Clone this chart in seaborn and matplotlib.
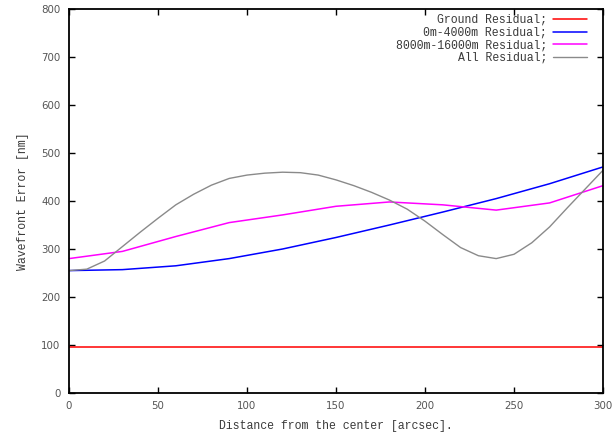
import matplotlib
matplotlib.use("Agg")
import matplotlib.pyplot as plt
import seaborn as sns
import numpy as np

# ---- data ----
x_coarse = [0, 30, 60, 90, 120, 150, 180, 210, 240, 270, 300]
ground = [96, 96, 96, 96, 96, 96, 96, 96, 96, 96, 96]
low_layer = [255, 257, 265, 280, 300, 324, 350, 377, 405, 436, 471]
high_layer = [280, 295, 326, 355, 371, 389, 398, 392, 381, 396, 432]

x_fine = [0, 10, 20, 30, 40, 50, 60, 70, 80, 90, 100, 110, 120, 130, 140, 150,
          160, 170, 180, 190, 200, 210, 220, 230, 240, 250, 260, 270, 280, 290, 300]
all_resid = [255, 258, 275, 305, 335, 364, 392, 414, 433, 447, 454, 458, 460, 459, 454, 444,
             432, 418, 402, 383, 358, 330, 303, 286, 280, 289, 313, 346, 386, 425, 464]

labels = ["Ground Residual;", "0m-4000m Residual;", "8000m-16000m Residual;", "All Residual;"]
x_ticks = [0, 50, 100, 150, 200, 250, 300]
y_ticks = [0, 100, 200, 300, 400, 500, 600, 700, 800]

sns.set_theme(style="white")
mono = ["Liberation Mono", "DejaVu Sans Mono"]

fig = plt.figure(figsize=(6.12, 4.34), dpi=100)
ax = fig.add_axes([69 / 612, 1 - 393 / 434, (603 - 69) / 612, (393 - 9) / 434])

sns.lineplot(x=x_coarse, y=ground, ax=ax, color="#ff0000", linewidth=1.1, label=labels[0])
sns.lineplot(x=x_coarse, y=low_layer, ax=ax, color="#0000ff", linewidth=1.1, label=labels[1])
sns.lineplot(x=x_coarse, y=high_layer, ax=ax, color="#ff00ff", linewidth=1.1, label=labels[2])
sns.lineplot(x=x_fine, y=all_resid, ax=ax, color="#8a8a8a", linewidth=1.0, label=labels[3])

ax.set_xlim(0, 300)
ax.set_ylim(0, 800)
ax.set_xticks(x_ticks)
ax.set_yticks(y_ticks)
ax.tick_params(axis="both", direction="in", length=4, width=1, color="black",
               labelsize=7.4, labelcolor="#555555", pad=6,
               top=True, right=True, bottom=True, left=True)
for lab in ax.get_xticklabels() + ax.get_yticklabels():
    lab.set_family("DejaVu Sans")

for sp in ax.spines.values():
    sp.set_visible(True)
    sp.set_color("black")
    sp.set_linewidth(1.3)

ax.set_xlabel("Distance from the center [arcsec].", family=mono, fontsize=8.3,
              color="#3a3a3a", labelpad=6)
ax.set_ylabel("Wavefront Error [nm]", family=mono, fontsize=8.3,
              color="#3a3a3a", labelpad=9)
ax.grid(False)

leg = ax.legend(loc="upper right", bbox_to_anchor=(1 - 16 / 534, 1 - 5 / 384),
                frameon=False, markerfirst=False, prop={"family": mono, "size": 8.3},
                handlelength=2.95, handletextpad=0.5, labelspacing=0.05,
                borderpad=0, borderaxespad=0)
for t in leg.get_texts():
    t.set_color("#3a3a3a")

fig.savefig("out.png", dpi=100)
